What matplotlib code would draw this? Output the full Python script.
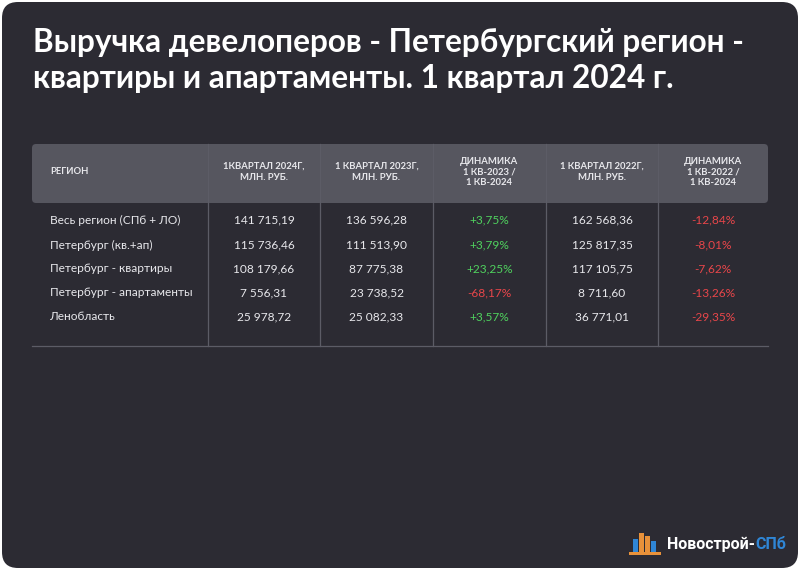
import matplotlib.pyplot as plt
from matplotlib.patches import FancyBboxPatch, Rectangle

# Данные таблицы
title_lines = ["Выручка девелоперов - Петербургский регион -",
               "квартиры и апартаменты. 1 квартал 2024 г."]
headers = ["РЕГИОН", "1КВАРТАЛ 2024Г,\nМЛН. РУБ.", "1 КВАРТАЛ 2023Г,\nМЛН. РУБ.",
           "ДИНАМИКА\n1 КВ-2023 /\n1 КВ-2024", "1 КВАРТАЛ 2022Г,\nМЛН. РУБ.",
           "ДИНАМИКА\n1 КВ-2022 /\n1 КВ-2024"]
regions = ["Весь регион (СПб + ЛО)", "Петербург (кв.+ап)", "Петербург - квартиры",
           "Петербург - апартаменты", "Ленобласть"]
q1_2024 = ["141 715,19", "115 736,46", "108 179,66", "7 556,31", "25 978,72"]
q1_2023 = ["136 596,28", "111 513,90", "87 775,38", "23 738,52", "25 082,33"]
dyn_23_24 = ["+3,75%", "+3,79%", "+23,25%", "-68,17%", "+3,57%"]
q1_2022 = ["162 568,36", "125 817,35", "117 105,75", "8 711,60", "36 771,01"]
dyn_22_24 = ["-12,84%", "-8,01%", "-7,62%", "-13,26%", "-29,35%"]

BG = "#2c2b33"
HEAD = "#56565f"
LINE = "#5c5c66"
TXT = "#e8e8ec"
GREEN = "#4fd15e"
RED = "#e8464a"
FONT = "Lato"

fig = plt.figure(figsize=(8, 5.7), dpi=100)
fig.patch.set_facecolor("white")
ax = fig.add_axes([0, 0, 1, 1])
ax.set_xlim(0, 800)
ax.set_ylim(570, 0)
ax.axis("off")

# карточка
ax.add_patch(FancyBboxPatch((2, 2), 796, 566, boxstyle="round,pad=0,rounding_size=16",
                            fc=BG, ec="none"))

# заголовок
for i, line in enumerate(title_lines):
    ax.text(33, 52 + i * 36, line, color="white", fontsize=22.7, fontweight="bold",
            family=FONT, va="baseline", ha="left")

# шапка таблицы
ax.add_patch(FancyBboxPatch((32, 144), 736, 59, boxstyle="round,pad=0,rounding_size=4",
                            fc=HEAD, ec="none"))

col_edges = [32, 208, 320, 433, 546, 658, 768]
for x in col_edges[1:-1]:
    ax.plot([x, x], [144, 346], color=LINE, lw=0.9)
ax.plot([32, 768], [346, 346], color=LINE, lw=0.9)

head_y = 172
ax.text(50, head_y, headers[0], color=TXT, fontsize=6.8, fontweight="bold",
        family=FONT, va="center", ha="left")
for j, h in enumerate(headers[1:], start=1):
    cx = (col_edges[j] + col_edges[j + 1]) / 2
    ax.text(cx, head_y, h, color=TXT, fontsize=6.8, fontweight="bold", family=FONT,
            va="center", ha="center", linespacing=1.25)

# строки
row_y = [220, 245, 269, 293, 317]
columns = [q1_2024, q1_2023, dyn_23_24, q1_2022, dyn_22_24]
for i, y in enumerate(row_y):
    ax.text(50, y, regions[i], color=TXT, fontsize=8.6, family=FONT,
            va="center", ha="left")
    for j, col in enumerate(columns, start=1):
        cx = (col_edges[j] + col_edges[j + 1]) / 2
        val = col[i]
        if val.endswith("%"):
            color = GREEN if val.startswith("+") else RED
        else:
            color = TXT
        ax.text(cx, y, val, color=color, fontsize=8.6, family=FONT,
                va="center", ha="center")

# логотип
bar_cols = ["#2f86d6", "#e8913a", "#e8913a", "#2f86d6"]
bar_h = [14, 20, 17, 12]
for k, (c, h) in enumerate(zip(bar_cols, bar_h)):
    ax.add_patch(Rectangle((633 + k * 6, 553 - h), 5, h, fc=c, ec="none"))
ax.add_patch(Rectangle((629, 552), 32, 2.5, fc="#e8913a", ec="none"))
logo = ax.text(667, 549, "Новострой-", color="white", fontsize=11.5, fontweight="bold",
               family="Roboto", va="baseline", ha="left")
ax.annotate("СПб", xy=(1, 0), xycoords=logo, xytext=(0.5, 0), textcoords="offset points",
            color="#2f86d6", fontsize=11.5, fontweight="bold", family="Roboto",
            va="bottom", ha="left")

fig.savefig("out.png", dpi=100, facecolor=fig.get_facecolor())
